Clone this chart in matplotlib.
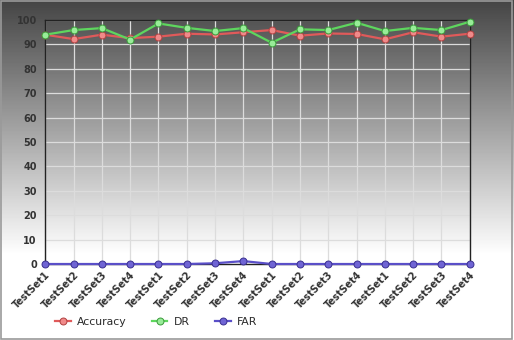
import numpy as np
import matplotlib
matplotlib.use("Agg")
import matplotlib.pyplot as plt
from matplotlib.patches import Rectangle

categories = ["TestSet1", "TestSet2", "TestSet3", "TestSet4"] * 4
accuracy = [94.0, 92.2, 94.0, 92.6, 93.2, 94.4, 94.1, 95.0,
            95.9, 93.6, 94.5, 94.3, 92.1, 95.0, 93.2, 94.4]
dr = [94.0, 95.9, 96.7, 92.0, 98.6, 96.8, 95.5, 96.7,
      90.7, 96.2, 95.9, 98.9, 95.5, 96.8, 95.9, 99.3]
far = [0, 0, 0, 0, 0, 0, 0.3, 1.2, 0, 0, 0, 0, 0, 0, 0, 0]
yticks = [0, 10, 20, 30, 40, 50, 60, 70, 80, 90, 100]

fig = plt.figure(figsize=(5.14, 3.40), dpi=100)

# background gradient (dark top -> white)
bg = fig.add_axes([0, 0, 1, 1], zorder=-10)
t = np.linspace(0, 1, 340)[:, None]
vals = np.clip(0.27 + 0.73 * t / 0.75, 0, 1)
bg.imshow(np.repeat(vals, 2, axis=1), cmap="gray", vmin=0, vmax=1,
          aspect="auto", extent=[0, 1, 0, 1], origin="upper")
bg.set_xlim(0, 1); bg.set_ylim(0, 1)
bg.axis("off")
fig.patches.append(Rectangle((0.002, 0.003), 0.995, 0.993, transform=fig.transFigure,
                             fill=False, edgecolor="#9a9a9a", linewidth=1.2))

ax = fig.add_axes([0.088, 0.2235, 0.826, 0.7175])
ax.set_facecolor("none")
x = np.arange(len(categories))

series = [
    (accuracy, "Accuracy", "#e05a5a", "#f08a8a", "#b04040"),
    (dr, "DR", "#5ed65e", "#98ec98", "#3a9a3a"),
    (far, "FAR", "#5a4fc8", "#6f64d4", "#3a3090"),
]
for vals_, lab, lc, fc, ec in series:
    ax.plot(x, vals_, color=lc, linewidth=1.6, marker="o", markersize=5,
            markerfacecolor=fc, markeredgecolor=ec, markeredgewidth=0.7,
            label=lab, clip_on=False, zorder=3)

ax.set_xlim(0, len(categories) - 1)
ax.set_ylim(0, 100)
ax.set_yticks(yticks)
ax.set_xticks(x)
ax.set_xticklabels(categories, rotation=45, ha="right", rotation_mode="anchor")
ax.tick_params(axis="both", length=0, labelsize=7, colors="#333333")
ax.tick_params(axis="y", pad=6)
ax.tick_params(axis="x", pad=4)
for lbl in ax.get_xticklabels() + ax.get_yticklabels():
    lbl.set_fontweight("bold")
ax.grid(True, color="#dcdcdc", linewidth=0.9)
ax.set_axisbelow(True)
for s in ["left", "right", "top", "bottom"]:
    ax.spines[s].set_color("#222222")
    ax.spines[s].set_linewidth(1.0)

leg = fig.legend(loc="center left", bbox_to_anchor=(0.088, 0.053), ncol=3,
                 frameon=False, fontsize=7.8, columnspacing=2.3, handlelength=1.45,
                 handletextpad=0.6)
for txt in leg.get_texts():
    txt.set_color("#2a2a2a")

fig.savefig("out.png", dpi=100)
